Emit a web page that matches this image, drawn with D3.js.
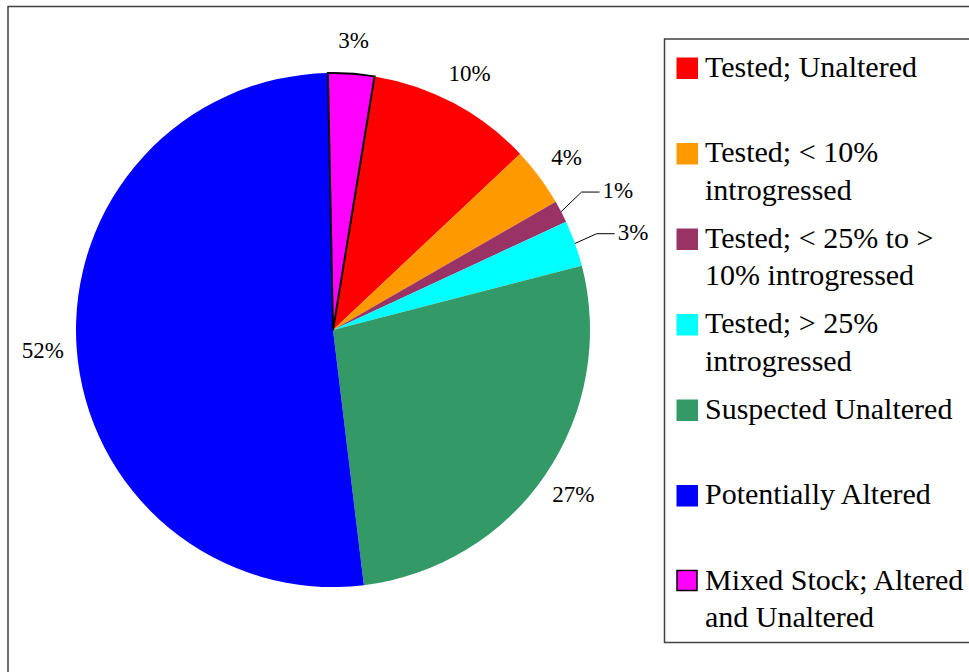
<!DOCTYPE html>
<html>
<head>
<meta charset="utf-8">
<script src="https://cdn.jsdelivr.net/npm/d3@7"></script>
<style>
  body { margin: 0; background: #fff; }
  svg { display: block; font-family: 'Liberation Serif', 'Times New Roman', serif; }
</style>
</head>
<body>
<div id="chart"></div>
<script>
// categories in drawing order (clockwise, starting just right of the top)
const categories = [
  'Tested; Unaltered',
  'Tested; < 10% introgressed',
  'Tested; < 25% to > 10% introgressed',
  'Tested; > 25% introgressed',
  'Suspected Unaltered',
  'Potentially Altered',
  'Mixed Stock; Altered and Unaltered'
];
const shares = [10.4, 3.7, 1.4, 2.9, 27.1, 51.6, 2.9];
const colors = ['#ff0000', '#ff9900', '#993366', '#00ffff', '#339966', '#0000ff', '#ff00ff'];
const outlined = [false, false, false, false, false, false, true];
const leaderLabels = [false, false, true, true, false, false, false];

const width = 969;
const height = 672;
const cx = 333, cy = 330, radius = 257;
const startAngle = 9.3 * Math.PI / 180;

const svg = d3.select('#chart')
  .append('svg')
  .attr('width', width)
  .attr('height', height);

// outer chart frame (runs off the right and bottom edges)
svg.append('rect')
  .attr('x', 8).attr('y', 6.5)
  .attr('width', 1000).attr('height', 700)
  .attr('fill', 'none')
  .attr('stroke', '#404040')
  .attr('stroke-width', 1.5);

const pie = d3.pie()
  .sort(null)
  .value((d) => d)
  .startAngle(startAngle)
  .endAngle(startAngle + 2 * Math.PI);

const arcs = pie(shares);
const arc = d3.arc().innerRadius(0).outerRadius(radius);
const labelArc = d3.arc().innerRadius(291).outerRadius(291);
const edgeArc = d3.arc().innerRadius(radius).outerRadius(radius);
const elbowArc = d3.arc().innerRadius(280).outerRadius(280);

const g = svg.append('g').attr('transform', `translate(${cx},${cy})`);

g.selectAll('path.slice')
  .data(arcs)
  .enter()
  .append('path')
  .attr('class', 'slice')
  .attr('d', arc)
  .attr('fill', (d, i) => colors[i])
  .attr('stroke', (d, i) => outlined[i] ? '#000' : 'none')
  .attr('stroke-width', 2)
  .attr('stroke-linejoin', 'miter');

// bring the outlined slice to the front
g.selectAll('path.slice').filter((d, i) => outlined[i]).raise();

const fmt = (v) => Math.round(v) + '%';

// plain labels
g.selectAll('text.plain')
  .data(arcs.filter((d, i) => !leaderLabels[i]))
  .enter()
  .append('text')
  .attr('class', 'plain')
  .attr('x', (d) => labelArc.centroid(d)[0])
  .attr('y', (d) => labelArc.centroid(d)[1] + 8)
  .attr('text-anchor', 'middle')
  .attr('font-size', 23)
  .attr('fill', '#000')
  .text((d) => fmt(d.value));

// labels with leader lines for thin slices
const lead = arcs.filter((d, i) => leaderLabels[i]);
lead.forEach((d, k) => {
  const p0 = edgeArc.centroid(d);
  const p1 = elbowArc.centroid(d);
  p1[1] -= k === 0 ? 9 : 2;
  const p2 = [p1[0] + 18, p1[1]];
  g.append('polyline')
    .attr('points', [p0, p1, p2].map((p) => p.join(',')).join(' '))
    .attr('fill', 'none')
    .attr('stroke', '#000')
    .attr('stroke-width', 1);
  g.append('text')
    .attr('x', p2[0] + 3)
    .attr('y', p2[1] + 6)
    .attr('font-size', 23)
    .attr('fill', '#000')
    .text(fmt(d.value));
});

// legend
const legend = svg.append('g');
legend.append('rect')
  .attr('x', 664.5).attr('y', 39)
  .attr('width', 400).attr('height', 603.5)
  .attr('fill', '#fff')
  .attr('stroke', '#404040')
  .attr('stroke-width', 1.5);

const rowY = d3.scaleLinear().domain([0, 1]).range([76.5, 162]);
const maxTextWidth = 270;

categories.forEach((name, i) => {
  const base = rowY(i);
  legend.append('rect')
    .attr('x', outlined[i] ? 677 : 676.5)
    .attr('y', base - 19)
    .attr('width', outlined[i] ? 20 : 21.5)
    .attr('height', outlined[i] ? 20 : 21.5)
    .attr('fill', colors[i])
    .attr('stroke', outlined[i] ? '#000' : 'none')
    .attr('stroke-width', 1.5);

  const text = legend.append('text')
    .attr('x', 705)
    .attr('y', base)
    .attr('font-size', 30)
    .attr('fill', '#000');

  // simple word wrap
  const words = name.split(' ');
  let line = [];
  let tspan = text.append('tspan').attr('x', 705).attr('y', base);
  let lineNo = 0;
  words.forEach((w) => {
    line.push(w);
    tspan.text(line.join(' '));
    if (tspan.node().getComputedTextLength() > maxTextWidth && line.length > 1) {
      line.pop();
      tspan.text(line.join(' '));
      line = [w];
      lineNo += 1;
      tspan = text.append('tspan')
        .attr('x', 705)
        .attr('y', base + lineNo * 37.5)
        .text(w);
    }
  });
});
</script>
</body>
</html>
